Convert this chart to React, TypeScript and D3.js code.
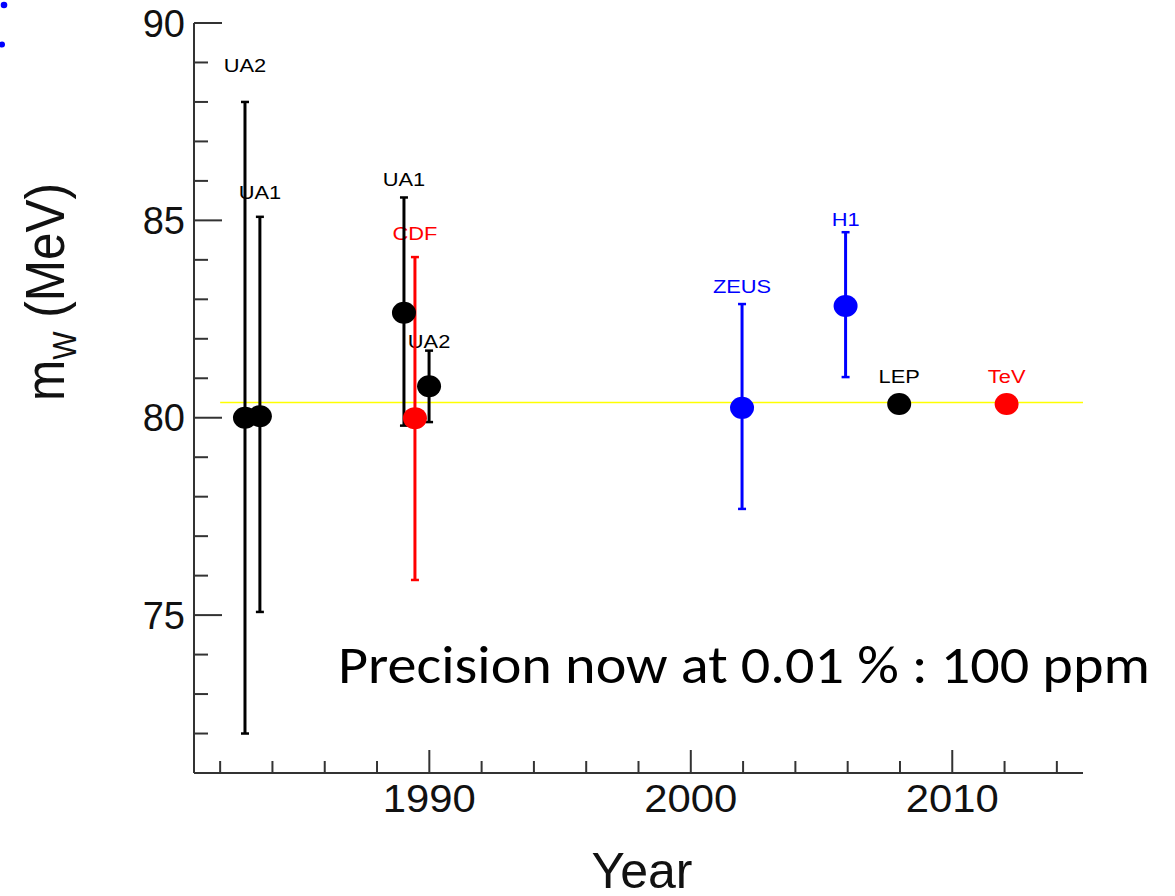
import React from "react";
import * as d3 from "d3";

// ---- data ----
const experiments = ["UA2", "UA1", "UA1", "CDF", "UA2", "ZEUS", "H1", "LEP", "TeV"];
const years = [1982.95, 1983.52, 1989.03, 1989.45, 1989.99, 2001.96, 2005.92, 2007.97, 2012.08];
const massValues = [80.0, 80.04, 82.66, 79.99, 80.8, 80.25, 82.83, 80.35, 80.35];
const errLow = [72.0, 75.08, 79.8, 75.89, 79.89, 77.69, 81.03, 80.35, 80.35];
const errHigh = [88.0, 85.09, 85.58, 84.07, 81.7, 82.88, 84.7, 80.35, 80.35];
const labelMass = [88.76, 85.54, 85.88, 84.5, 81.77, 83.17, 84.86, 80.88, 80.88];
const groups = ["SppS", "SppS", "SppS", "Tevatron", "SppS", "HERA", "HERA", "LEP", "Tevatron"];
const worldAverage = 80.385;
const averageFrom = 1982;
const averageTo = 2015;

const yMajorTicks = [75, 80, 85, 90];
const yMinorTicks = [72, 73, 74, 76, 77, 78, 79, 81, 82, 83, 84, 86, 87, 88, 89];
const xMajorTicks = [1990, 2000, 2010];
const xMinorTicks = [1982, 1984, 1986, 1988, 1992, 1994, 1996, 1998, 2002, 2004, 2006, 2008, 2012, 2014];

const groupColor: Record<string, string> = {
  SppS: "#000000",
  LEP: "#000000",
  Tevatron: "#ff0000",
  HERA: "#0000ff",
};

const W = 1175;
const H = 896;

export default function App() {
  const x = d3.scaleLinear().domain([1981, 2015]).range([194, 1083]);
  const y = d3.scaleLinear().domain([71, 90]).range([773, 23]);
  const axisColor = "#333";
  const tickFont = "'Liberation Sans', Arial, sans-serif";

  const points = experiments.map((name, i) => ({
    name,
    year: years[i],
    m: massValues[i],
    lo: errLow[i],
    hi: errHigh[i],
    ly: labelMass[i],
    color: groupColor[groups[i]],
  }));

  return (
    <svg
      width={W}
      height={H}
      style={{ position: "absolute", left: 0, top: 0, background: "#fff" }}
    >
      <rect x={0} y={0} width={W} height={H} fill="#fff" />
      {/* cut-off blue colon at top-left */}
      <circle cx={4} cy={5} r={3.3} fill="#0000ff" />
      <circle cx={2} cy={44.5} r={3} fill="#0000ff" />

      {/* world average line */}
      <line
        x1={x(averageFrom)}
        x2={x(averageTo)}
        y1={y(worldAverage)}
        y2={y(worldAverage)}
        stroke="#ffff00"
        strokeWidth={1.6}
      />

      {/* axes */}
      <line x1={x(1981)} x2={x(1981)} y1={y(90)} y2={y(71)} stroke={axisColor} strokeWidth={2} />
      <line x1={x(1981)} x2={x(2015)} y1={y(71)} y2={y(71)} stroke={axisColor} strokeWidth={2} />
      {yMajorTicks.map((t) => (
        <g key={"ym" + t}>
          <line x1={x(1981)} x2={x(1981) + 28} y1={y(t)} y2={y(t)} stroke={axisColor} strokeWidth={2} />
          <text
            x={185}
            y={y(t) + 13.5}
            textAnchor="end"
            fontFamily={tickFont}
            fontSize={38}
            fill="#111"
          >
            {t}
          </text>
        </g>
      ))}
      {yMinorTicks.map((t) => (
        <line key={"yn" + t} x1={x(1981)} x2={x(1981) + 14} y1={y(t)} y2={y(t)} stroke={axisColor} strokeWidth={2} />
      ))}
      {xMajorTicks.map((t) => (
        <g key={"xm" + t}>
          <line x1={x(t)} x2={x(t)} y1={y(71)} y2={y(71) - 23} stroke={axisColor} strokeWidth={2} />
          <text
            transform={`translate(${x(t)},812) scale(1.1,1)`}
            textAnchor="middle"
            fontFamily={tickFont}
            fontSize={38}
            fill="#111"
          >
            {t}
          </text>
        </g>
      ))}
      {xMinorTicks.map((t) => (
        <line key={"xn" + t} x1={x(t)} x2={x(t)} y1={y(71)} y2={y(71) - 12} stroke={axisColor} strokeWidth={2} />
      ))}

      {/* axis titles */}
      <text
        x={642}
        y={888}
        textAnchor="middle"
        fontFamily={tickFont}
        fontSize={50}
        fill="#111"
      >
        Year
      </text>
      <text
        transform="translate(64,292) rotate(-90)"
        textAnchor="middle"
        fontFamily={tickFont}
        fontSize={56}
        fill="#111"
        textLength={218}
        lengthAdjust="spacingAndGlyphs"
      >
        m
        <tspan fontSize={34} dy={12}>
          W
        </tspan>
        <tspan dy={-12}> (MeV)</tspan>
      </text>

      {/* labels */}
      {points.map((p, i) => (
        <text
          key={"l" + i}
          transform={`translate(${x(p.year)},${y(p.ly)}) scale(1.15,1)`}
          textAnchor="middle"
          fontFamily={tickFont}
          fontSize={19}
          fill={p.color}
        >
          {p.name}
        </text>
      ))}

      {/* error bars */}
      {points.map((p, i) =>
        p.hi > p.lo ? (
          <g key={"e" + i} stroke={p.color}>
            <line x1={x(p.year)} x2={x(p.year)} y1={y(p.hi)} y2={y(p.lo)} strokeWidth={3} />
            <line x1={x(p.year) - 4} x2={x(p.year) + 4} y1={y(p.hi)} y2={y(p.hi)} strokeWidth={2.5} />
            <line x1={x(p.year) - 4} x2={x(p.year) + 4} y1={y(p.lo)} y2={y(p.lo)} strokeWidth={2.5} />
          </g>
        ) : null
      )}

      {/* markers */}
      {points.map((p, i) => (
        <ellipse key={"p" + i} cx={x(p.year)} cy={y(p.m)} rx={12} ry={11} fill={p.color} />
      ))}

      {/* annotation */}
      <text
        x={338}
        y={683}
        fontFamily="Carlito, Lato, 'Open Sans', sans-serif"
        fontSize={53}
        fill="#000"
        textLength={812}
        lengthAdjust="spacingAndGlyphs"
      >
        Precision now at 0.01 % : 100 ppm
      </text>
    </svg>
  );
}
